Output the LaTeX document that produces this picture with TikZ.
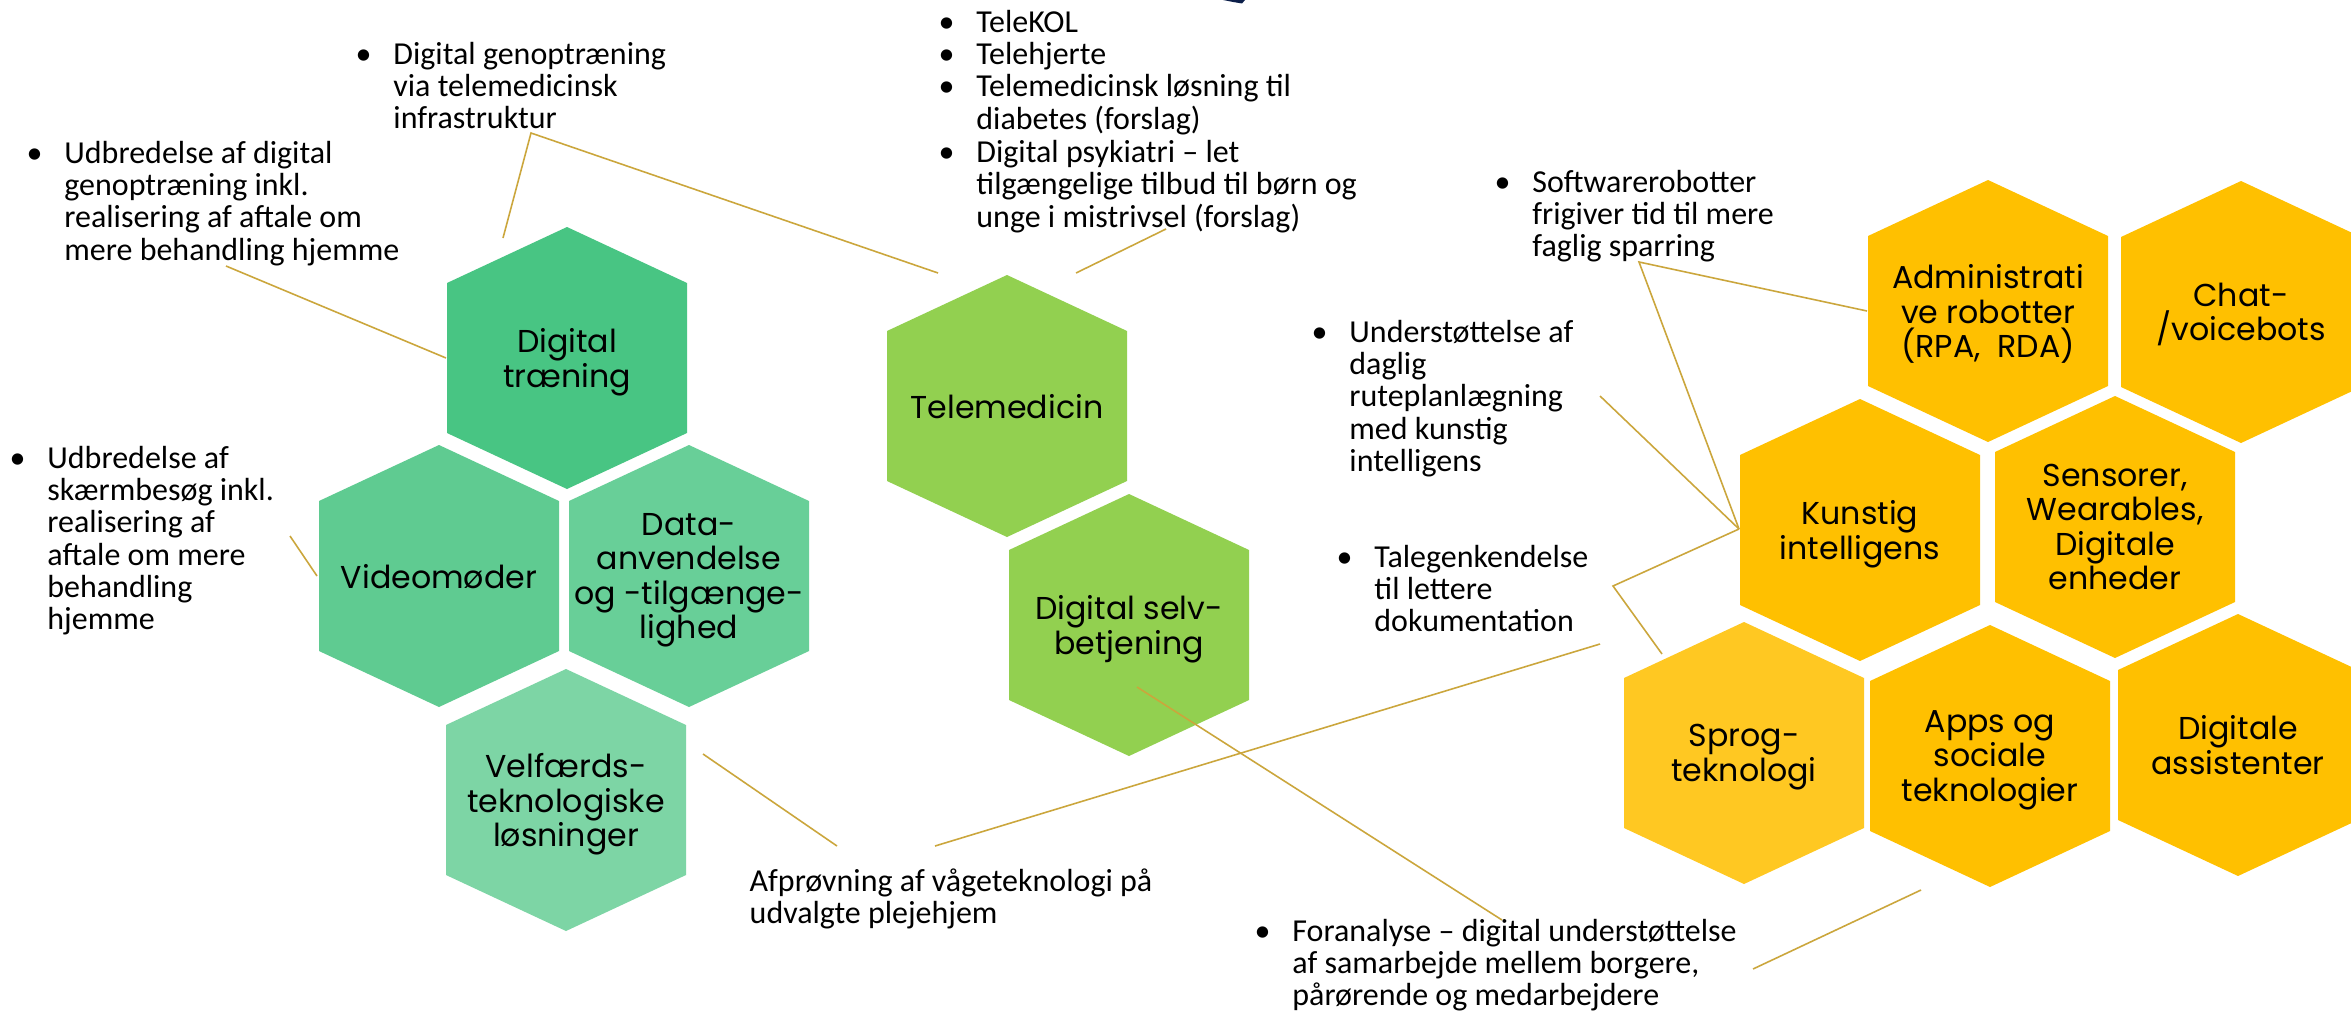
\documentclass[tikz,border=0pt]{standalone}
\usepackage{fontspec}
\setmainfont{Carlito}
\newfontfamily\hexfont{Poppins}

\definecolor{dtgreen}{HTML}{48C583}
\definecolor{vidgreen}{HTML}{5FCB91}
\definecolor{datagreen}{HTML}{68CF98}
\definecolor{velgreen}{HTML}{7DD5A5}
\definecolor{telegreen}{HTML}{92D050}
\definecolor{hexyellow}{HTML}{FFC000}
\definecolor{sprogyellow}{HTML}{FFC822}
\definecolor{linkgold}{HTML}{CBA63C}
\definecolor{navy}{HTML}{0C1F4A}

\newcommand\bitems[1]{\begin{tabular}[t]{@{}l@{\hspace{6.2pt}}l@{}}#1\end{tabular}}
\newcommand\plainlines[1]{\begin{tabular}[t]{@{}l@{}}#1\end{tabular}}

\begin{document}
\begin{tikzpicture}[x=0.1mm,y=-0.1mm,
  note/.style={font=\fontsize{9.1}{9.2}\selectfont, inner sep=0pt, anchor=base west},
  hexlabel/.style={font=\hexfont\fontsize{9}{9.8}\selectfont, align=center,
    inner sep=0pt, text depth=0pt},
  link/.style={draw=linkgold, line width=0.45pt}]
  \fill[white] (0,0) rectangle (2351,1015);
  \useasboundingbox (0,0) rectangle (2351,1015);

  \fill[navy] (1223,0) -- (1245,0) -- (1242,3.5) -- (1233,2) -- cycle;

  \foreach \n/\x/\y/\col/\txt in {
      dt/567/358/dtgreen/{Digital\\træning},
      video/439/576/vidgreen/{Videomøder},
      data/689/576/datagreen/{Data-\\anvendelse\\og -tilgænge-\\lighed},
      velf/566/800/velgreen/{Velfærds-\\teknologiske\\løsninger},
      tele/1007/406/telegreen/{Telemedicin},
      selv/1129/625/telegreen/{Digital selv-\\betjening},
      admin/1988/311/hexyellow/{Administrati\\ve robotter\\(RPA,\ \ RDA)},
      chat/2241/312/hexyellow/{Chat-\\/voicebots},
      ki/1860/530/hexyellow/{Kunstig\\intelligens},
      sens/2115/527/hexyellow/{Sensorer,\\Wearables,\\Digitale\\enheder},
      sprog/1744/753/sprogyellow/{Sprog-\\teknologi},
      apps/1990/756/hexyellow/{Apps og\\sociale\\teknologier},
      assist/2238/745/hexyellow/{Digitale\\assistenter}}
  {
    \fill[\col] (\x,\y) +(0,-131) -- +(120,-75) -- +(120,75) -- +(0,131)
      -- +(-120,75) -- +(-120,-75) -- cycle;
    \node[hexlabel] (\n) at (\x,\y) {\txt};
  }

  \node[note] (genop) at (355,64)
    {\bitems{\textbullet & Digital genoptræning\\ & via telemedicinsk\\ & infrastruktur}};
  \node[note] (udbrdig) at (26,163)
    {\bitems{\textbullet & Udbredelse af digital\\ & genoptræning inkl.\\ & realisering af aftale om\\ & mere behandling hjemme}};
  \node[note] (udbrskaerm) at (9,468)
    {\bitems{\textbullet & Udbredelse af\\ & skærmbesøg inkl.\\ & realisering af\\ & aftale om mere\\ & behandling\\ & hjemme}};
  \node[note] (telekol) at (938,32)
    {\bitems{\textbullet & TeleKOL\\ \textbullet & Telehjerte\\ \textbullet & Telemedicinsk løsning til\\ & diabetes (forslag)\\ \textbullet & Digital psykiatri – let\\ & tilgængelige tilbud til børn og\\ & unge i mistrivsel (forslag)}};
  \node[note] (softw) at (1494,192)
    {\bitems{\textbullet & Softwarerobotter\\ & frigiver tid til mere\\ & faglig sparring}};
  \node[note] (rute) at (1311,342)
    {\bitems{\textbullet & Understøttelse af\\ & daglig\\ & ruteplanlægning\\ & med kunstig\\ & intelligens}};
  \node[note] (tale) at (1336,567)
    {\bitems{\textbullet & Talegenkendelse\\ & til lettere\\ & dokumentation}};
  \node[note] (vaage) at (749,891)
    {\plainlines{Afprøvning af vågeteknologi på\\ udvalgte plejehjem}};
  \node[note] (foran) at (1254,941)
    {\bitems{\textbullet & Foranalyse – digital understøttelse\\ & af samarbejde mellem borgere,\\ & pårørende og medarbejdere}};

  \coordinate (genop-a) at (531,133);
  \coordinate (dt-nw) at (503,238);
  \coordinate (tele-nw) at (938,273);
  \coordinate (udbrdig-a) at (226,266);
  \coordinate (dt-w) at (446,358);
  \coordinate (udbrskaerm-a) at (290,536);
  \coordinate (video-w) at (317,576);
  \coordinate (telekol-a) at (1166,229);
  \coordinate (tele-ne) at (1076,273);
  \coordinate (softw-a) at (1639,262);
  \coordinate (admin-w) at (1867,311);
  \coordinate (ki-w) at (1739,529);
  \coordinate (rute-a) at (1600,396);
  \coordinate (tale-a) at (1613,586);
  \coordinate (sprog-nw) at (1662,654);
  \coordinate (velf-e) at (703,754);
  \coordinate (vaage-a) at (837,846);
  \coordinate (vaage-b) at (935,846);
  \coordinate (sprog-w) at (1600,644);
  \coordinate (selv-in) at (1137,687);
  \coordinate (foran-a) at (1502,920);
  \coordinate (foran-b) at (1753,969);
  \coordinate (apps-sw) at (1921,890);

  \draw[link] (dt-nw) -- (genop-a) -- (tele-nw);
  \draw[link] (udbrdig-a) -- (dt-w);
  \draw[link] (udbrskaerm-a) -- (video-w);
  \draw[link] (telekol-a) -- (tele-ne);
  \draw[link] (admin-w) -- (softw-a) -- (ki-w);
  \draw[link] (rute-a) -- (ki-w);
  \draw[link] (ki-w) -- (tale-a) -- (sprog-nw);
  \draw[link] (velf-e) -- (vaage-a);
  \draw[link] (vaage-b) -- (sprog-w);
  \draw[link] (selv-in) -- (foran-a);
  \draw[link] (foran-b) -- (apps-sw);
\end{tikzpicture}
\end{document}
